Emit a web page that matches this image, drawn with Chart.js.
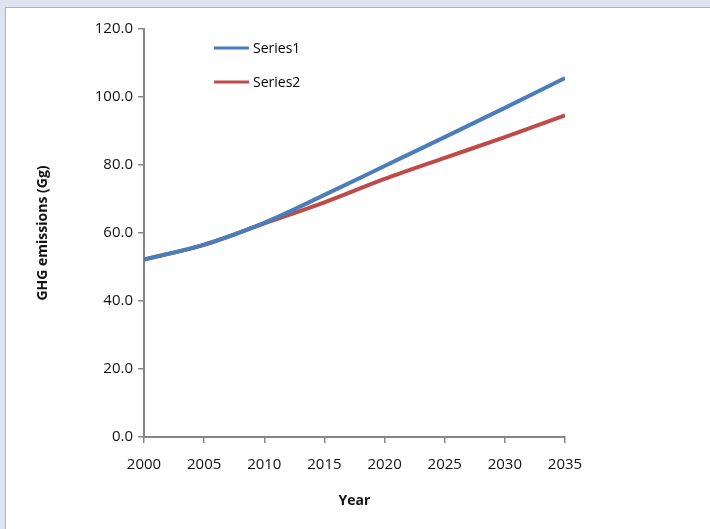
<!DOCTYPE html>
<html>
<head>
<meta charset="utf-8">
<script src="https://cdn.jsdelivr.net/npm/chart.js@4/dist/chart.umd.min.js"></script>
<style>
  html, body { margin: 0; padding: 0; }
  body { width: 710px; height: 529px; background: #dbe4ef; position: relative; overflow: hidden; }
  #panel {
    position: absolute; left: 5px; top: 7px; width: 705px; height: 522px;
    background: #fff; border-left: 1px solid #aab4c0; border-top: 1px solid #aab4c0;
  }
  #panel canvas { display: block; }
</style>
</head>
<body>
<div id="panel"><canvas id="ghgChart" width="705" height="522"></canvas></div>
<script>
// Projected GHG emissions, two scenarios
const years = [2000, 2005, 2010, 2015, 2020, 2025, 2030, 2035];
const series1 = [52.2, 56.6, 63.0, 71.2, 79.7, 88.2, 96.8, 105.6];
const series2 = [52.2, 56.5, 62.8, 69.0, 75.9, 82.1, 88.2, 94.6];
const yTicks = [0, 20, 40, 60, 80, 100, 120];

const FONT = '"Open Sans", Lato, sans-serif';
const AXIS_GREY = '#868686';

// legend drawn inside the plot, top-left
const insideLegend = {
  id: 'insideLegend',
  afterDraw(chart) {
    const ctx = chart.ctx;
    ctx.save();
    chart.data.datasets.forEach((ds, i) => {
      const y = 40 + i * 34;
      ctx.strokeStyle = ds.borderColor;
      ctx.lineWidth = 3;
      ctx.beginPath();
      ctx.moveTo(208, y);
      ctx.lineTo(243, y);
      ctx.stroke();
      ctx.fillStyle = '#000';
      ctx.font = '14px ' + FONT;
      ctx.textBaseline = 'middle';
      ctx.fillText(ds.label, 247, y + 1);
    });
    ctx.restore();
  }
};

new Chart(document.getElementById('ghgChart'), {
  type: 'line',
  data: {
    datasets: [
      {
        label: 'Series1',
        data: years.map((y, i) => ({ x: y, y: series1[i] })),
        borderColor: '#4a7ebb',
        borderWidth: 4,
        pointRadius: 0,
        cubicInterpolationMode: 'monotone'
      },
      {
        label: 'Series2',
        data: years.map((y, i) => ({ x: y, y: series2[i] })),
        borderColor: '#be4b48',
        borderWidth: 4,
        pointRadius: 0,
        cubicInterpolationMode: 'monotone'
      }
    ]
  },
  options: {
    responsive: false,
    animation: false,
    layout: { padding: { top: 21, right: 146, left: 0, bottom: 0 } },
    plugins: { legend: { display: false }, tooltip: { enabled: false } },
    scales: {
      x: {
        type: 'linear',
        min: 2000,
        max: 2035,
        afterBuildTicks: s => { s.ticks = years.map(v => ({ value: v })); },
        afterFit: s => { s.height = 93; },
        grid: { drawOnChartArea: false, color: AXIS_GREY, tickLength: 6, lineWidth: 1.5 },
        border: { color: AXIS_GREY, width: 2 },
        ticks: { color: '#111', font: { family: FONT, size: 15 }, padding: 13, callback: v => String(v) },
        title: { display: true, text: 'Year', color: '#111', font: { family: FONT, size: 14, weight: 'bold' }, padding: { top: 0, bottom: 21 } }
      },
      y: {
        min: 0,
        max: 120,
        afterBuildTicks: s => { s.ticks = yTicks.map(v => ({ value: v })); },
        afterFit: s => { s.width = 138; },
        grid: { drawOnChartArea: false, color: AXIS_GREY, tickLength: 6, lineWidth: 1.5 },
        border: { color: AXIS_GREY, width: 2 },
        ticks: { color: '#111', font: { family: FONT, size: 15 }, padding: 5, callback: v => v.toFixed(1) },
        title: { display: true, text: 'GHG emissions (Gg)', color: '#111', font: { family: FONT, size: 14, weight: 'bold' }, padding: { top: 29, bottom: 0 } }
      }
    }
  },
  plugins: [insideLegend]
});
</script>
</body>
</html>
